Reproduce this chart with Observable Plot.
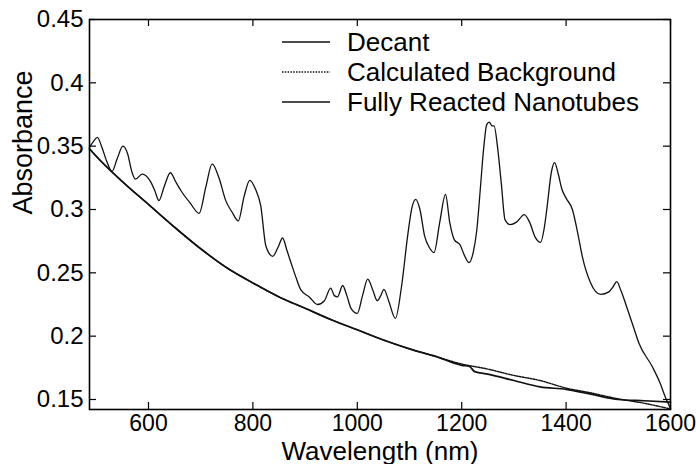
<!DOCTYPE html>
<html>
<head>
<meta charset="utf-8">
<script src="https://cdn.jsdelivr.net/npm/d3@7"></script>
<script src="https://cdn.jsdelivr.net/npm/@observablehq/plot@0.6"></script>
<style>
  html, body { margin: 0; padding: 0; background: white; }
  #wrap { position: relative; width: 696px; height: 464px; font-family: "Liberation Sans", Arial, sans-serif; }
  #chart svg { display: block; }
  #legend { position: absolute; left: 282px; top: 27px; font-size: 26px; line-height: 30px; color: #000; }
  #legend .row { display: flex; align-items: center; height: 30px; white-space: nowrap; }
  #legend svg { display: block; margin-right: 17px; }
</style>
</head>
<body>
<div id="wrap">
  <div id="chart"></div>
  <div id="legend"></div>
</div>
<script>
// ---- Data ----
const xTicks = [600, 800, 1000, 1200, 1400, 1600];
const yTicks = [0.15, 0.2, 0.25, 0.3, 0.35, 0.4, 0.45];
const yTickLabels = ["0.15", "0.2", "0.25", "0.3", "0.35", "0.4", "0.45"];

const seriesNames = ["Decant", "Calculated Background", "Fully Reacted Nanotubes"];

const decantWl = [487, 495, 502, 510, 520, 530, 540, 551, 560, 568, 575, 588, 604, 612, 620, 630, 642, 652, 662, 680, 697, 710, 722, 735, 748, 760, 772, 783, 794, 805, 815, 825, 838, 848, 857, 865, 873, 882, 892, 908, 924, 937, 949, 956, 962, 972, 980, 988, 1000, 1010, 1020, 1030, 1038, 1045, 1051, 1060, 1073, 1085, 1097, 1105, 1112, 1120, 1129, 1138, 1147, 1158, 1169, 1177, 1186, 1197, 1205, 1214, 1222, 1229, 1236, 1242, 1248, 1253, 1258, 1262, 1269, 1276, 1283, 1293, 1305, 1320, 1330, 1341, 1351, 1358, 1363, 1372, 1378, 1385, 1392, 1400, 1412, 1422, 1431, 1447, 1466, 1482, 1490, 1497, 1505, 1517, 1530, 1540, 1565, 1580, 1591, 1600];
const decantAbs = [0.349, 0.354, 0.357, 0.350, 0.338, 0.330, 0.340, 0.350, 0.344, 0.330, 0.324, 0.328, 0.322, 0.315, 0.307, 0.318, 0.329, 0.322, 0.315, 0.305, 0.297, 0.318, 0.336, 0.325, 0.307, 0.298, 0.291, 0.310, 0.323, 0.316, 0.303, 0.271, 0.263, 0.270, 0.2775, 0.268, 0.258, 0.247, 0.2365, 0.231, 0.225, 0.228, 0.238, 0.232, 0.231, 0.240, 0.232, 0.222, 0.218, 0.232, 0.245, 0.236, 0.228, 0.232, 0.237, 0.228, 0.214, 0.240, 0.281, 0.302, 0.308, 0.300, 0.279, 0.270, 0.266, 0.290, 0.312, 0.290, 0.276, 0.272, 0.264, 0.258, 0.266, 0.284, 0.318, 0.348, 0.367, 0.369, 0.366, 0.366, 0.348, 0.320, 0.292, 0.288, 0.290, 0.296, 0.290, 0.278, 0.274, 0.285, 0.300, 0.330, 0.337, 0.328, 0.316, 0.309, 0.300, 0.282, 0.263, 0.242, 0.233, 0.235, 0.239, 0.243, 0.236, 0.222, 0.206, 0.194, 0.176, 0.163, 0.151, 0.143];

const bgWl = [487, 500, 550, 600, 650, 700, 750, 800, 850, 900, 950, 1000, 1050, 1100, 1150, 1200, 1250, 1300, 1350, 1400, 1450, 1500, 1550, 1600];
const bgAbs = [0.348, 0.342, 0.322, 0.304, 0.286, 0.269, 0.254, 0.242, 0.231, 0.222, 0.213, 0.205, 0.197, 0.190, 0.184, 0.178, 0.174, 0.169, 0.165, 0.159, 0.155, 0.1505, 0.147, 0.1425];

const reactedWl = [487, 500, 550, 600, 650, 700, 750, 800, 850, 900, 950, 1000, 1050, 1100, 1150, 1200, 1215, 1225, 1250, 1300, 1350, 1400, 1450, 1500, 1550, 1600];
const reactedAbs = [0.348, 0.342, 0.322, 0.304, 0.286, 0.269, 0.254, 0.242, 0.231, 0.222, 0.213, 0.205, 0.197, 0.190, 0.184, 0.177, 0.176, 0.172, 0.170, 0.165, 0.160, 0.158, 0.154, 0.150, 0.149, 0.148];

// ---- Build tables ----
const decant = decantWl.map((w, i) => ({wl: w, abs: decantAbs[i]}));
const background = bgWl.map((w, i) => ({wl: w, abs: bgAbs[i]}));
const reacted = reactedWl.map((w, i) => ({wl: w, abs: reactedAbs[i]}));

const W = 696, H = 464, mL = 89, mR = 26, mT = 19, mB = 55;
const innerW = W - mL - mR, innerH = H - mT - mB;
const tickLen = 7;
const ink = "#111";

const chart = Plot.plot({
  width: W, height: H,
  marginLeft: mL, marginRight: mR, marginTop: mT, marginBottom: mB,
  x: {domain: [487, 1600]},
  y: {domain: [0.1421, 0.45]},
  style: {fontFamily: "'Liberation Sans', Arial, sans-serif", fontSize: "24px", color: "#000", background: "white", overflow: "visible"},
  marks: [
    Plot.line(background, {x: "wl", y: "abs", stroke: ink, strokeWidth: 1.4, strokeDasharray: "1.5,1.3", curve: "monotone-x"}),
    Plot.line(reacted, {x: "wl", y: "abs", stroke: ink, strokeWidth: 1.7, curve: "monotone-x"}),
    Plot.line(decant, {x: "wl", y: "abs", stroke: ink, strokeWidth: 1.3, curve: "monotone-x"}),
    Plot.frame({stroke: "#000", strokeWidth: 1.6}),
    Plot.ruleX(xTicks, {x: d => d, insetTop: innerH - tickLen, stroke: "#000", strokeWidth: 1.2}),
    Plot.ruleX(xTicks, {x: d => d, insetBottom: innerH - tickLen, stroke: "#000", strokeWidth: 1.2}),
    Plot.ruleY(yTicks, {y: d => d, insetRight: innerW - tickLen, stroke: "#000", strokeWidth: 1.2}),
    Plot.ruleY(yTicks, {y: d => d, insetLeft: innerW - tickLen, stroke: "#000", strokeWidth: 1.2}),
    Plot.axisX(xTicks, {tickSize: 0, tickPadding: 5, fontSize: 23, label: null, tickFormat: d => String(d)}),
    Plot.axisY(yTicks, {tickSize: 0, tickPadding: 6, fontSize: 24, label: null, tickFormat: d => yTickLabels[yTicks.indexOf(d)]}),
    Plot.text(["Wavelength (nm)"], {text: d => d, frameAnchor: "bottom", dy: 50, fontSize: 26, lineAnchor: "bottom", fill: "#000"}),
    Plot.text(["Absorbance"], {text: d => d, frameAnchor: "left", dx: -66, rotate: -90, fontSize: 27, lineAnchor: "middle", fill: "#000"})
  ]
});
document.getElementById("chart").appendChild(chart);

// ---- Legend (HTML overlay inside the plot box) ----
const legendStyles = [
  {w: 1.3, dash: null},
  {w: 1.4, dash: "1.5,1.3"},
  {w: 1.7, dash: null}
];
const legend = document.getElementById("legend");
seriesNames.forEach((name, i) => {
  const row = document.createElement("div");
  row.className = "row";
  const st = legendStyles[i];
  row.innerHTML = `<svg width="48" height="30"><line x1="0" x2="48" y1="15" y2="15" stroke="${ink}" stroke-width="${st.w}" ${st.dash ? `stroke-dasharray="${st.dash}"` : ""}/></svg><span>${name}</span>`;
  legend.appendChild(row);
});
</script>
</body>
</html>
